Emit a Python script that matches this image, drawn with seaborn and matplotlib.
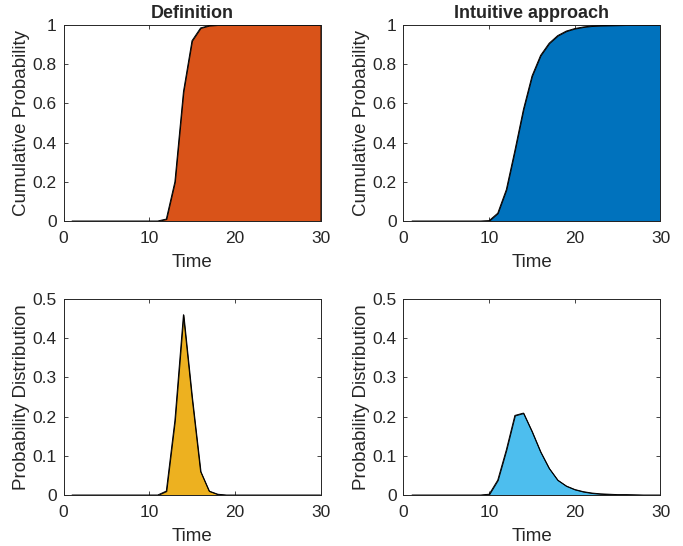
import numpy as np
import pandas as pd
import matplotlib
matplotlib.use("Agg")
import matplotlib.pyplot as plt
import seaborn as sns
from matplotlib.ticker import FuncFormatter

time = list(range(1, 31))

def_cdf = [0, 0, 0, 0, 0, 0, 0, 0, 0, 0, 0, 0.01, 0.20, 0.66, 0.92, 0.985,
           0.997, 1, 1, 1, 1, 1, 1, 1, 1, 1, 1, 1, 1, 1]
def_pdf = [0, 0, 0, 0, 0, 0, 0, 0, 0, 0, 0, 0.01, 0.19, 0.46, 0.25, 0.06,
           0.01, 0.002, 0, 0, 0, 0, 0, 0, 0, 0, 0, 0, 0, 0]
int_cdf = [0, 0, 0, 0, 0, 0, 0, 0, 0, 0.002, 0.04, 0.16, 0.36, 0.57, 0.74,
           0.845, 0.907, 0.946, 0.969, 0.982, 0.99, 0.995, 0.997, 0.998,
           0.999, 1, 1, 1, 1, 1]
int_pdf = [0, 0, 0, 0, 0, 0, 0, 0, 0, 0.002, 0.038, 0.115, 0.203, 0.209,
           0.162, 0.11, 0.068, 0.038, 0.023, 0.014, 0.0085, 0.005, 0.003,
           0.002, 0.001, 0.001, 0.0005, 0, 0, 0]

titles = ["Definition", "Intuitive approach"]
xlabel = "Time"
ylabels = ["Cumulative Probability", "Probability Distribution"]
colors = ["#D95319", "#0072BD", "#EDB120", "#4DBEEE"]

sns.set_theme(style="ticks")
plt.rcParams["font.family"] = ["Liberation Sans", "DejaVu Sans"]
txt = "#262626"
plt.rcParams.update({
    "text.color": txt, "axes.labelcolor": txt,
    "xtick.color": txt, "ytick.color": txt,
    "axes.edgecolor": txt,
})

fig = plt.figure(figsize=(6.83, 5.46), dpi=100)
W, H = 683, 546
def add_axes(x0, y0, x1, y1):
    return fig.add_axes([x0 / W, 1 - y1 / H, (x1 - x0) / W, (y1 - y0) / H])

axes = [
    add_axes(63.5, 25, 320.5, 221),
    add_axes(403.5, 25, 660.5, 221),
    add_axes(63.5, 299, 320.5, 495),
    add_axes(403.5, 299, 660.5, 495),
]
series = [def_cdf, int_cdf, def_pdf, int_pdf]
ylims = [(0, 1), (0, 1), (0, 0.5), (0, 0.5)]
yticks = [np.arange(0, 1.01, 0.2), np.arange(0, 1.01, 0.2),
          np.arange(0, 0.51, 0.1), np.arange(0, 0.51, 0.1)]

fmt = FuncFormatter(lambda v, p: "%g" % round(v, 3))

for i, ax in enumerate(axes):
    df = pd.DataFrame({"Time": time, "val": series[i]})
    ax.fill_between(df["Time"], df["val"], 0, facecolor=colors[i],
                    edgecolor="black", linewidth=0.7, zorder=2)
    sns.lineplot(data=df, x="Time", y="val", ax=ax, color="black",
                 linewidth=0.7, zorder=3)
    ax.set_xlim(0, 30)
    ax.set_ylim(*ylims[i])
    ax.set_xticks([0, 10, 20, 30])
    ax.set_yticks(yticks[i])
    ax.yaxis.set_major_formatter(fmt)
    ax.tick_params(direction="in", length=3, width=0.6, labelsize=12.5,
                   top=True, right=True)
    ax.tick_params(axis="x", pad=7)
    ax.tick_params(axis="y", pad=5)
    for s in ax.spines.values():
        s.set_linewidth(0.7)
        s.set_color("#262626")
    ax.set_xlabel(xlabel, fontsize=13.5, labelpad=6)
    ax.set_ylabel(ylabels[i // 2], fontsize=13.5, labelpad=2)
    if i < 2:
        ax.set_title(titles[i], fontsize=13, fontweight="bold", pad=5)

fig.savefig("out.png", dpi=100, facecolor="white")
